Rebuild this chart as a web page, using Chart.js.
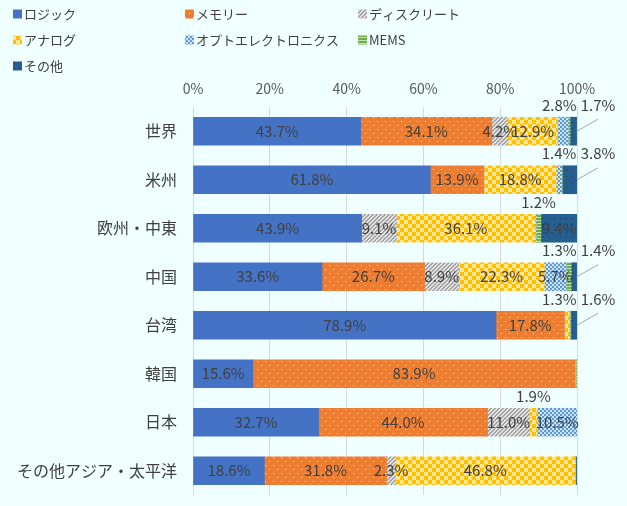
<!DOCTYPE html>
<html lang="ja">
<head>
<meta charset="utf-8">
<title>地域別 半導体市場の製品構成</title>
<script src="https://cdn.jsdelivr.net/npm/chart.js@4.4.1/dist/chart.umd.min.js"></script>
<style>
  html, body { margin: 0; padding: 0; background: #F0FFFF; }
  #wrap { width: 627px; height: 506px; }
</style>
</head>
<body>
<div id="wrap"><canvas id="regionChart" width="627" height="506"></canvas></div>
<script>
const categories = ['世界', '米州', '欧州・中東', '中国', '台湾', '韓国', '日本', 'その他アジア・太平洋'];
const seriesNames = ['ロジック', 'メモリー', 'ディスクリート', 'アナログ', 'オプトエレクトロニクス', 'MEMS', 'その他'];

const logic    = [43.7, 61.8, 43.9, 33.6, 78.9, 15.6, 32.7, 18.6];
const memory   = [34.1, 13.9, 0,    26.7, 17.8, 83.9, 44.0, 31.8];
const discrete = [4.2,  0.1,  9.1,  8.9,  0,    0,    11.0, 2.3];
const analog   = [12.9, 18.8, 36.1, 22.3, 1.3,  0.2,  1.9,  46.8];
const opto     = [2.8,  1.4,  0.3,  5.7,  0.2,  0,    10.5, 0];
const mems     = [0.5,  0.2,  1.2,  1.3,  0.2,  0.3,  0.1,  0.2];
const other    = [1.7,  3.8,  9.4,  1.4,  1.6,  0,    0,    0.3];

const xTicks = [0, 20, 40, 60, 80, 100];

// small labels that go above the bar even though they are not tiny
const aboveLabels = [['世界', 'オプトエレクトロニクス']];

const FONT = '"Noto Sans CJK JP", "Noto Sans", sans-serif';
const TEXT = '#404040';

function makePattern(base, size, draw) {
  const c = document.createElement('canvas');
  c.width = size;
  c.height = size;
  const g = c.getContext('2d');
  g.fillStyle = base;
  g.fillRect(0, 0, size, size);
  draw(g, size);
  return g.createPattern(c, 'repeat');
}

function buildFills() {
  return [
    '#4472C4',
    makePattern('#ED7D31', 8, g => {
      g.fillStyle = 'rgba(255,255,255,0.75)';
      g.fillRect(1, 1, 1, 1);
      g.fillRect(5, 5, 1, 1);
    }),
    makePattern('#A5A5A5', 4, g => {
      g.fillStyle = '#E2E2E2';
      for (let x = 0; x < 4; x++) {
        for (let y = 0; y < 4; y++) {
          if ((x + y) % 4 < 2) g.fillRect(x, y, 1, 1);
        }
      }
    }),
    makePattern('#FFC000', 8, g => {
      g.fillStyle = '#FFE699';
      g.fillRect(0, 0, 4, 4);
      g.fillRect(4, 4, 4, 4);
    }),
    makePattern('#5B9BD5', 4, g => {
      g.fillStyle = '#CFE2F5';
      g.fillRect(0, 0, 2, 2);
      g.fillRect(2, 2, 2, 2);
    }),
    makePattern('#70AD47', 3, g => {
      g.fillStyle = '#C5E0B4';
      g.fillRect(0, 1, 3, 1);
    }),
    makePattern('#255E91', 6, g => {
      g.fillStyle = '#173C5E';
      g.fillRect(2, 2, 1, 1);
    })
  ];
}

// legend in three fixed columns, like the original
const gridLegend = {
  id: 'gridLegend',
  afterDraw(chart) {
    const ctx = chart.ctx;
    const colX = [13, 185, 358];
    ctx.save();
    ctx.font = '13px ' + FONT;
    ctx.textBaseline = 'middle';
    ctx.textAlign = 'left';
    chart.data.datasets.forEach((ds, i) => {
      const x = colX[i % 3];
      const y = 14 + Math.floor(i / 3) * 26;
      ctx.fillStyle = ds.backgroundColor;
      ctx.fillRect(x, y - 4.5, 9, 9);
      ctx.fillStyle = TEXT;
      ctx.fillText(ds.label, x + 11, y);
    });
    ctx.restore();
  }
};

const barLabels = {
  id: 'barLabels',
  afterDatasetsDraw(chart) {
    const ctx = chart.ctx;
    const area = chart.chartArea;
    const last = chart.data.datasets.length - 1;
    ctx.save();
    ctx.font = '15px ' + FONT;
    ctx.fillStyle = TEXT;
    ctx.textBaseline = 'middle';
    ctx.textAlign = 'center';

    chart.data.labels.forEach((cat, j) => {
      let leader = null;
      const lastBar = chart.getDatasetMeta(last).data[j];
      const lastVal = chart.data.datasets[last].data[j];
      if (lastVal >= 1 && lastVal < 5) {
        const text = lastVal.toFixed(1) + '%';
        const lx = area.right + 21;
        const ly = lastBar.y - lastBar.height / 2 - 12;
        ctx.strokeStyle = '#A6A6A6';
        ctx.lineWidth = 1;
        ctx.beginPath();
        ctx.moveTo(lx, ly + 14);
        ctx.lineTo(lastBar.x, lastBar.y);
        ctx.stroke();
        ctx.fillText(text, lx, ly);
        leader = { x: lx, w: ctx.measureText(text).width };
      }

      chart.data.datasets.forEach((ds, i) => {
        const v = ds.data[j];
        if (v < 1) return;
        if (i === last && v < 5) return;
        const bar = chart.getDatasetMeta(i).data[j];
        const text = v.toFixed(1) + '%';
        const cx = (bar.x + bar.base) / 2;
        const isAbove = v < 2 || aboveLabels.some(a => a[0] === cat && a[1] === ds.label);
        if (isAbove) {
          const w = ctx.measureText(text).width;
          let x = cx;
          if (leader) x = Math.min(x, leader.x - leader.w / 2 - 4 - w / 2);
          ctx.fillText(text, x, bar.y - bar.height / 2 - 12);
        } else {
          ctx.fillText(text, cx, bar.y);
        }
      });
    });
    ctx.restore();
  }
};

function drawChart() {
  const fills = buildFills();
  const values = [logic, memory, discrete, analog, opto, mems, other];
  const ctx = document.getElementById('regionChart').getContext('2d');

  new Chart(ctx, {
    type: 'bar',
    data: {
      labels: categories,
      datasets: values.map((vals, i) => ({
        label: seriesNames[i],
        data: vals,
        backgroundColor: fills[i],
        borderWidth: 0,
        barThickness: 28
      }))
    },
    options: {
      indexAxis: 'y',
      responsive: false,
      animation: false,
      devicePixelRatio: 1,
      layout: { padding: { top: 76, right: 50, bottom: 11, left: 0 } },
      scales: {
        x: {
          stacked: true,
          position: 'top',
          min: 0,
          max: 100,
          afterBuildTicks(scale) {
            scale.ticks = xTicks.map(v => ({ value: v }));
          },
          ticks: {
            callback: v => v + '%',
            color: '#595959',
            font: { size: 14, family: FONT },
            padding: 10,
            maxRotation: 0
          },
          grid: { color: '#D9D9D9', drawTicks: false },
          border: { display: false },
          afterFit(scale) {
            scale.height = 31;
            scale.paddingLeft = 0;
            scale.paddingRight = 0;
          }
        },
        y: {
          stacked: true,
          ticks: { color: TEXT, font: { size: 16, family: FONT }, padding: 16 },
          grid: { display: false, drawTicks: false },
          border: { display: false },
          afterFit(scale) {
            scale.width = 193;
            scale.paddingTop = 0;
            scale.paddingBottom = 0;
          }
        }
      },
      plugins: {
        legend: { display: false },
        tooltip: { enabled: false }
      }
    },
    plugins: [barLabels, gridLegend]
  });
}

drawChart();
</script>
</body>
</html>
